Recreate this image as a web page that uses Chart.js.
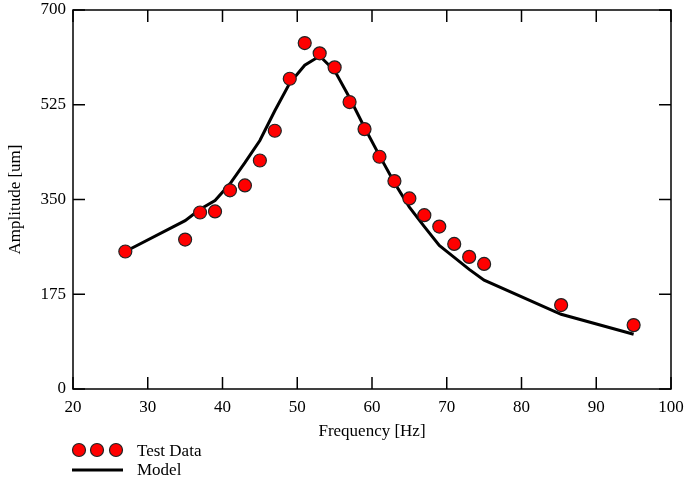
<!DOCTYPE html>
<html>
<head>
<meta charset="utf-8">
<script src="https://cdn.jsdelivr.net/npm/chart.js@4/dist/chart.umd.min.js"></script>
<style>
  body { margin: 0; background: #fff; }
  canvas { display: block; }
</style>
</head>
<body>
<canvas id="ampChart" width="688" height="483"></canvas>
<script>
// frequencies of the measurements [Hz]
let freqs = [27, 35, 37, 39, 41, 43, 45, 47, 49, 51, 53, 55, 57, 59, 61, 63, 65, 67, 69, 71, 73, 75, 85.3, 95];
// measured amplitude [um]
let testAmp = [254, 276, 326, 328, 367, 376, 422, 477, 573, 639, 620, 594, 530, 480, 429, 384, 352, 321, 300, 268, 244, 231, 155, 118];
// model amplitude [um]
let modelAmp = [254, 311, 332, 348, 379, 418, 459, 514, 565, 598, 615, 588, 538, 483, 431, 381, 336, 300, 265, 243, 221, 201, 138, 101];

let xTicks = [20, 30, 40, 50, 60, 70, 80, 90, 100];
let yTicks = [0, 175, 350, 525, 700];

let serif = "'Liberation Serif', 'Times New Roman', serif";

let testPts = freqs.map((f, i) => ({ x: f, y: testAmp[i] }));
let modelPts = freqs.map((f, i) => ({ x: f, y: modelAmp[i] }));

// box round the plot and inward tick marks on all four sides
let frame = {
  id: 'frame',
  beforeDatasetsDraw(chart) {
    let ctx = chart.ctx, a = chart.chartArea;
    let xs = chart.scales.x, ys = chart.scales.y;
    ctx.save();
    ctx.strokeStyle = '#000';
    ctx.lineWidth = 1.5;
    ctx.strokeRect(a.left, a.top, a.right - a.left, a.bottom - a.top);
    ctx.beginPath();
    xTicks.forEach(v => {
      let px = xs.getPixelForValue(v);
      ctx.moveTo(px, a.bottom); ctx.lineTo(px, a.bottom - 12);
      ctx.moveTo(px, a.top); ctx.lineTo(px, a.top + 12);
    });
    yTicks.forEach(v => {
      let py = ys.getPixelForValue(v);
      ctx.moveTo(a.left, py); ctx.lineTo(a.left + 12, py);
      ctx.moveTo(a.right, py); ctx.lineTo(a.right - 12, py);
    });
    ctx.stroke();
    ctx.restore();
  }
};

// legend in the bottom left corner
let legendBox = {
  id: 'legendBox',
  afterDraw(chart) {
    let ctx = chart.ctx;
    ctx.save();
    ctx.fillStyle = '#ff0000';
    ctx.strokeStyle = '#222';
    ctx.lineWidth = 1.2;
    [79, 97, 116].forEach(cx => {
      ctx.beginPath();
      ctx.arc(cx, 450, 6.5, 0, Math.PI * 2);
      ctx.fill();
      ctx.stroke();
    });
    ctx.strokeStyle = '#000';
    ctx.lineWidth = 3;
    ctx.beginPath();
    ctx.moveTo(72, 470);
    ctx.lineTo(123, 470);
    ctx.stroke();
    ctx.fillStyle = '#000';
    ctx.font = '17px ' + serif;
    ctx.textBaseline = 'middle';
    ctx.fillText('Test Data', 137, 452);
    ctx.fillText('Model', 137, 471);
    ctx.restore();
  }
};

let ctx = document.getElementById('ampChart').getContext('2d');
let ampChart = new Chart(ctx, {
  type: 'scatter',
  data: {
    datasets: [{
      label: 'Test Data',
      data: testPts,
      pointRadius: 6.5,
      pointBackgroundColor: '#ff0000',
      pointBorderColor: '#222',
      pointBorderWidth: 1.2,
      order: 0
    }, {
      label: 'Model',
      data: modelPts,
      showLine: true,
      pointRadius: 0,
      borderColor: '#000',
      borderWidth: 3,
      order: 1
    }]
  },
  options: {
    responsive: false,
    animation: false,
    devicePixelRatio: 1,
    layout: { padding: { left: 0, top: 10, right: 17, bottom: 38 } },
    plugins: {
      legend: { display: false },
      tooltip: { enabled: false }
    },
    scales: {
      x: {
        type: 'linear',
        min: 20,
        max: 100,
        grid: { display: false, drawTicks: false },
        border: { display: false },
        ticks: { stepSize: 10, color: '#000', padding: 8, font: { family: serif, size: 17 } },
        title: { display: true, text: 'Frequency [Hz]', color: '#000', padding: { top: 2, bottom: 3 }, font: { family: serif, size: 17 } },
        afterFit(s) { s.height = 56; s.paddingLeft = 0; s.paddingRight = 0; }
      },
      y: {
        min: 0,
        max: 700,
        grid: { display: false, drawTicks: false },
        border: { display: false },
        ticks: { stepSize: 175, color: '#000', padding: 7, font: { family: serif, size: 17 } },
        title: { display: true, text: 'Amplitude [um]', color: '#000', padding: { top: 5, bottom: 2 }, font: { family: serif, size: 17 } },
        afterFit(s) { s.width = 73; s.paddingTop = 0; s.paddingBottom = 0; }
      }
    }
  },
  plugins: [frame, legendBox]
});
</script>
</body>
</html>
